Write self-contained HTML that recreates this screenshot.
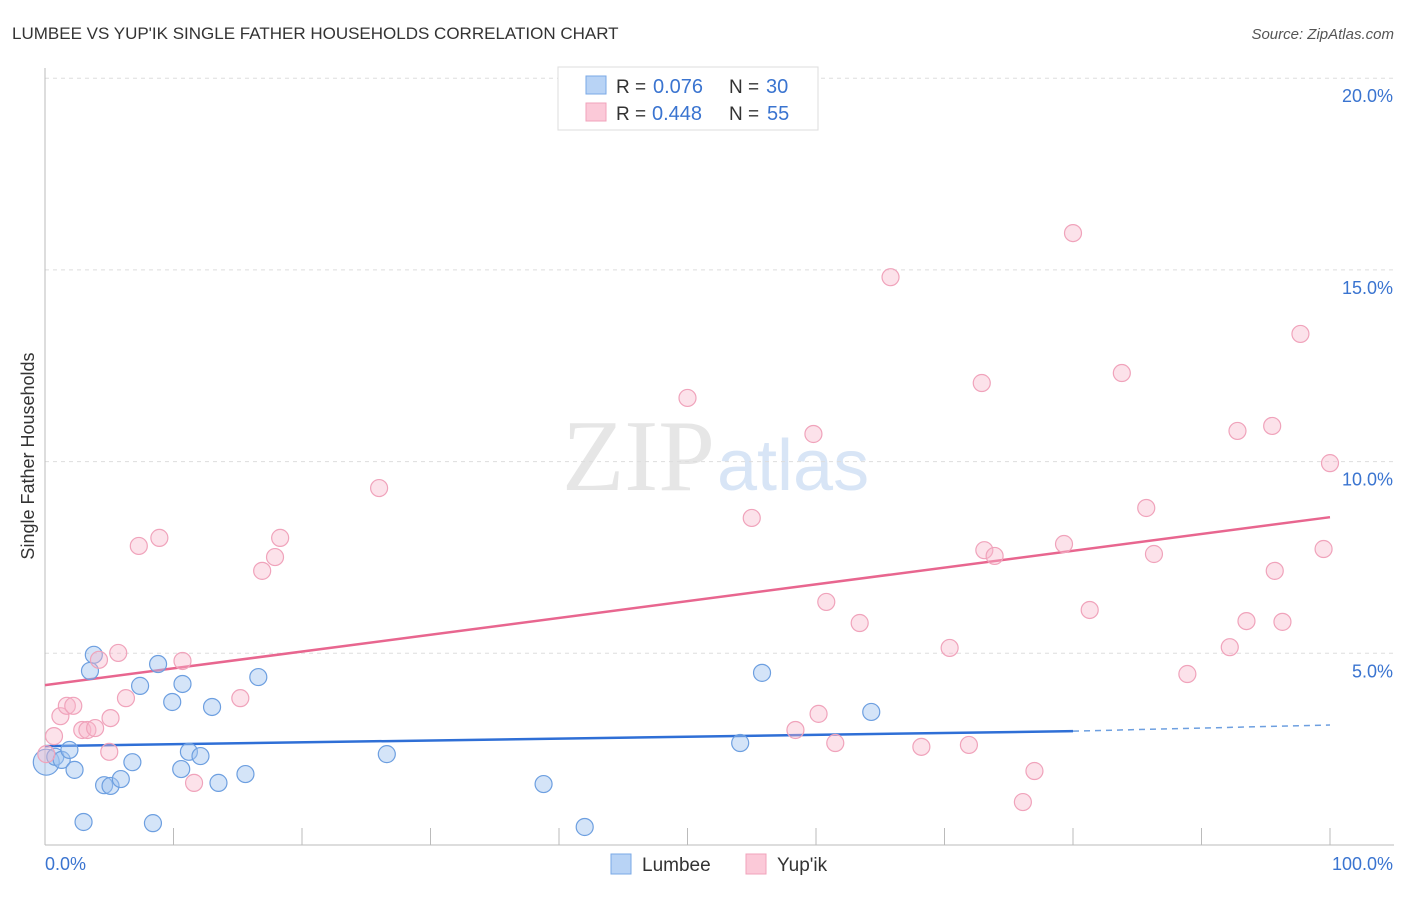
<!DOCTYPE html>
<html><head><meta charset="utf-8"><style>
body{margin:0;background:#fff;font-family:"Liberation Sans",sans-serif}
</style></head><body>
<svg id="chart" width="1406" height="892" xmlns="http://www.w3.org/2000/svg" font-family="Liberation Sans, sans-serif">
<text x="12" y="39" font-size="17" fill="#333">LUMBEE VS YUP'IK SINGLE FATHER HOUSEHOLDS CORRELATION CHART</text>
<text x="1394" y="39" font-size="15" fill="#555" font-style="italic" text-anchor="end">Source: ZipAtlas.com</text>
<text x="715" y="490" font-size="102" text-anchor="end" fill="#e6e6e6" font-family="Liberation Serif, serif">ZIP</text>
<text x="717" y="490" font-size="72" fill="#d8e5f6">atlas</text>
<g id="grid"></g><g id="axes"></g><g id="trend"></g><g id="pts"></g>
<text transform="translate(34,456) rotate(-90)" font-size="18" fill="#333" text-anchor="middle">Single Father Households</text>
<g>
<rect x="558" y="67" width="260" height="63" fill="#fff" stroke="#ddd"/>
<rect x="586" y="76" width="20" height="18" fill="#b8d3f5" stroke="#7aa8e6"/>
<rect x="586" y="103" width="20" height="18" fill="#fbc9d8" stroke="#f0a3bb"/>
<text x="616" y="93" font-size="19" fill="#333">R =</text>
<text x="653" y="93" font-size="20" fill="#3a74d0">0.076</text>
<text x="729" y="93" font-size="19" fill="#333">N =</text>
<text x="766" y="93" font-size="20" fill="#3a74d0">30</text>
<text x="616" y="120" font-size="19" fill="#333">R =</text>
<text x="652" y="120" font-size="20" fill="#3a74d0">0.448</text>
<text x="729" y="120" font-size="19" fill="#333">N =</text>
<text x="767" y="120" font-size="20" fill="#3a74d0">55</text>
</g>
<g>
<rect x="611" y="854" width="20" height="20" fill="#b8d3f5" stroke="#7aa8e6"/>
<text x="642" y="871" font-size="19" fill="#333">Lumbee</text>
<rect x="746" y="854" width="20" height="20" fill="#fbc9d8" stroke="#f0a3bb"/>
<text x="777" y="871" font-size="19" fill="#333">Yup'ik</text>
</g>
</svg>
<script>
const lumbeeX=[0.1,0.8,1.3,1.9,2.3,3.0,3.5,3.8,4.6,5.1,5.9,6.8,7.4,8.4,8.8,9.9,10.6,10.7,11.2,12.1,13.0,13.5,15.6,16.6,26.6,38.8,42.0,54.1,55.8,64.3];
const lumbeeY=[2.16,2.30,2.22,2.48,1.96,0.60,4.54,4.96,1.56,1.54,1.72,2.16,4.15,0.57,4.72,3.73,1.98,4.20,2.43,2.32,3.60,1.62,1.85,4.38,2.37,1.59,0.47,2.66,4.49,3.47];
const yupikX=[0.1,0.7,1.2,1.7,2.2,2.9,3.3,3.9,4.2,5.1,5.7,6.3,5.0,7.3,8.9,10.7,11.6,15.2,16.9,17.9,18.3,26.0,50.0,55.0,58.4,59.8,60.2,60.8,61.5,63.4,65.8,68.2,70.4,71.9,72.9,73.1,73.9,76.1,77.0,79.3,80.0,81.3,83.8,85.7,86.3,88.9,92.8,93.5,92.2,95.5,95.7,96.3,97.7,99.5,100.0];
const yupikY=[2.37,2.84,3.36,3.63,3.63,3.00,3.00,3.05,4.83,3.31,5.01,3.83,2.43,7.80,8.01,4.80,1.62,3.83,7.15,7.51,8.01,9.31,11.66,8.53,3.00,10.72,3.42,6.34,2.66,5.79,14.81,2.56,5.14,2.61,12.05,7.69,7.54,1.12,1.93,7.85,15.96,6.13,12.31,8.79,7.59,4.46,10.80,5.84,5.16,10.93,7.15,5.82,13.33,7.72,9.96];
const yTicks=[5,10,15,20];
const yTickLabels=["5.0%","10.0%","15.0%","20.0%"];
const xTicks=[0,10,20,30,40,50,60,70,80,90,100];
const lumbeeTrend=[2.58,2.97,3.13]; // at x=0, 80, 100
const yupikTrend=[4.17,8.55]; // at x=0, 100
const NS="http://www.w3.org/2000/svg";
const sx=v=>45+v*12.85, sy=v=>845-v*38.34;
function mk(p,t,a){const e=document.createElementNS(NS,t);for(const k in a)e.setAttribute(k,a[k]);document.getElementById(p).appendChild(e);return e;}
yTicks.forEach((t,i)=>{
 const l=mk('grid','line',{x1:45,x2:1394,y1:sy(t),y2:sy(t),stroke:'#ddd','stroke-dasharray':'4,4'});
 
 
 const tx=mk('grid','text',{x:1393,y:sy(t)+24,'font-size':18,fill:'#3a74d0','text-anchor':'end'});
 tx.textContent=yTickLabels[i];
 
 
});
const ya=mk('axes','line',{x1:45,x2:45,y1:68,y2:845,stroke:'#bbb'});


const xa=mk('axes','line',{x1:45,x2:1394,y1:845,y2:845,stroke:'#bbb'});


xTicks.forEach(t=>{
 const l=mk('axes','line',{x1:sx(t),x2:sx(t),y1:828,y2:845,stroke:'#bbb'});
 
 
});
const x0=mk('axes','text',{x:45,y:870,'font-size':18,fill:'#3a74d0'});x0.textContent='0.0%';


const x1=mk('axes','text',{x:1393,y:870,'font-size':18,fill:'#3a74d0','text-anchor':'end'});x1.textContent='100.0%';


lumbeeX.forEach((x,i)=>{
 const c=mk('pts','circle',{cx:sx(x),cy:sy(lumbeeY[i]),r:i==0?13:8.5,fill:'rgba(160,196,240,0.45)',stroke:'#6d9fe0','stroke-width':1.2});
 
 
});
yupikX.forEach((x,i)=>{
 const c=mk('pts','circle',{cx:sx(x),cy:sy(yupikY[i]),r:8.5,fill:'rgba(248,182,202,0.4)',stroke:'#f0a3bb','stroke-width':1.2});
 
 
});
const t1=mk('trend','line',{x1:sx(0),y1:sy(yupikTrend[0]),x2:sx(100),y2:sy(yupikTrend[1]),stroke:'#e8668f','stroke-width':2.5});


const t2=mk('trend','line',{x1:sx(0),y1:sy(lumbeeTrend[0]),x2:sx(80),y2:sy(lumbeeTrend[1]),stroke:'#2f6fd6','stroke-width':2.5});


const t3=mk('trend','line',{x1:sx(80),y1:sy(lumbeeTrend[1]),x2:sx(100),y2:sy(lumbeeTrend[2]),stroke:'#6d9fe0','stroke-width':1.5,'stroke-dasharray':'6,5'});


</script>
</body></html>
